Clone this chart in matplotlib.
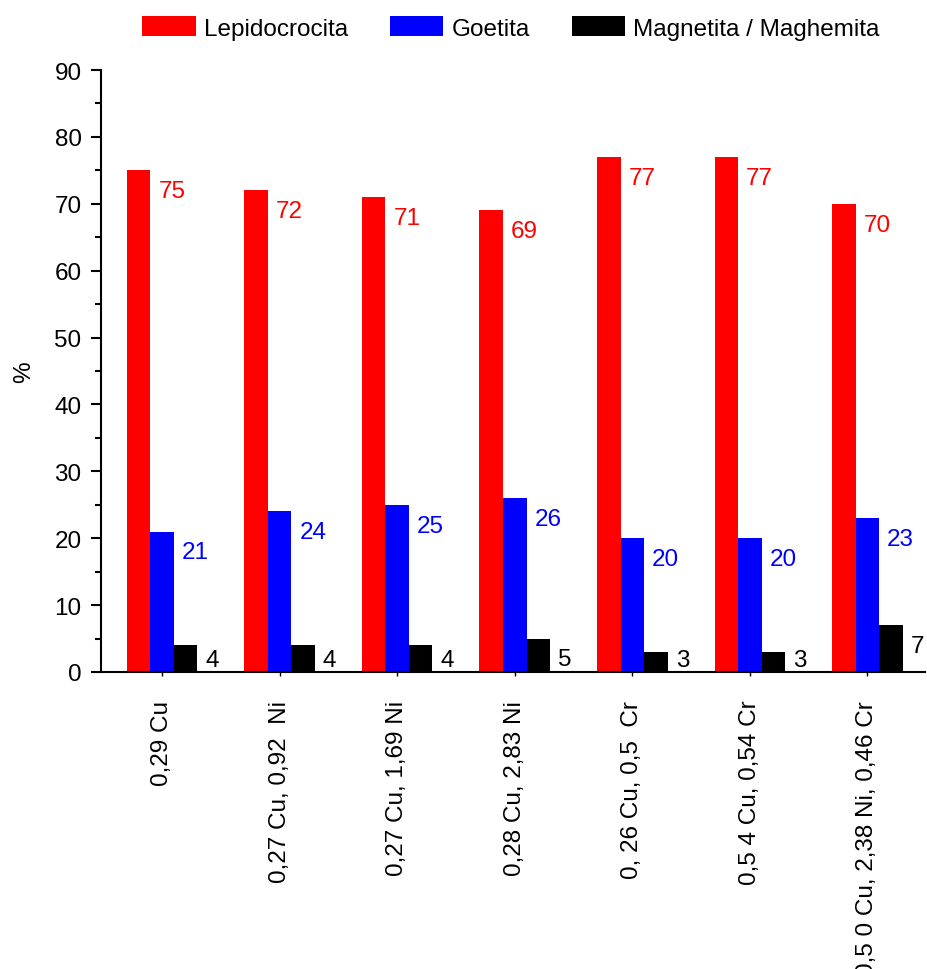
import matplotlib
matplotlib.use("Agg")
import matplotlib.pyplot as plt
import numpy as np
from matplotlib.ticker import MultipleLocator

plt.rcParams['font.family'] = ['Liberation Sans', 'DejaVu Sans']

categories = ["0,29 Cu", "0,27 Cu, 0,92  Ni", "0,27 Cu, 1,69 Ni", "0,28 Cu, 2,83 Ni",
              "0, 26 Cu, 0,5  Cr", "0,5 4 Cu, 0,54 Cr", "0,5 0 Cu, 2,38 Ni, 0,46 Cr"]
lepidocrocita = [75, 72, 71, 69, 77, 77, 70]
goetita = [21, 24, 25, 26, 20, 20, 23]
magnetita = [4, 4, 4, 5, 3, 3, 7]
series_names = ["Lepidocrocita", "Goetita", "Magnetita / Maghemita"]
colors = ["#FF0000", "#0000FF", "#000000"]

fig = plt.figure(figsize=(9.28, 9.70), dpi=100)
ax = fig.add_axes([101/928, 1-673/970, (925-101)/928, (673-71)/970])

x = np.arange(len(categories))
w = 0.2
FS = 17.5
for i, (vals, name, c) in enumerate(zip([lepidocrocita, goetita, magnetita], series_names, colors)):
    xs = x + (i - 1) * w
    ax.bar(xs, vals, width=w, color=c, label=name, linewidth=0, zorder=2)
    for xi, v in zip(xs, vals):
        ax.annotate(str(v), xy=(xi + w/2, max(v - 3.1, 1.8)), xytext=(8, 0),
                    textcoords='offset pixels', ha='left', va='center', color=c, fontsize=FS)

ax.set_xlim(-0.52, len(categories) - 1 + 0.49)
ax.set_ylim(0, 90)
ax.yaxis.set_major_locator(MultipleLocator(10))
ax.yaxis.set_minor_locator(MultipleLocator(5))
ax.set_xticks(x)
ax.set_xticklabels(categories, rotation=90, ha='center', va='top', fontsize=FS)
ax.tick_params(axis='y', which='major', direction='out', length=7, width=1.5, labelsize=FS, pad=7)
ax.tick_params(axis='y', which='minor', direction='out', length=4, width=1.5)
ax.tick_params(axis='x', which='major', direction='out', length=3, width=1, pad=17)
for s in ['top', 'right']:
    ax.spines[s].set_visible(False)
for s in ['left', 'bottom']:
    ax.spines[s].set_linewidth(1.5)
ax.set_ylabel("%", fontsize=FS, labelpad=14)

fig.legend(loc='center', bbox_to_anchor=(511/928, 1-29/970), ncol=3, frameon=False,
           fontsize=FS, handlelength=2.2, handleheight=0.85, handletextpad=0.33,
           columnspacing=1.73, borderaxespad=0)

fig.savefig("out.png", dpi=100)
